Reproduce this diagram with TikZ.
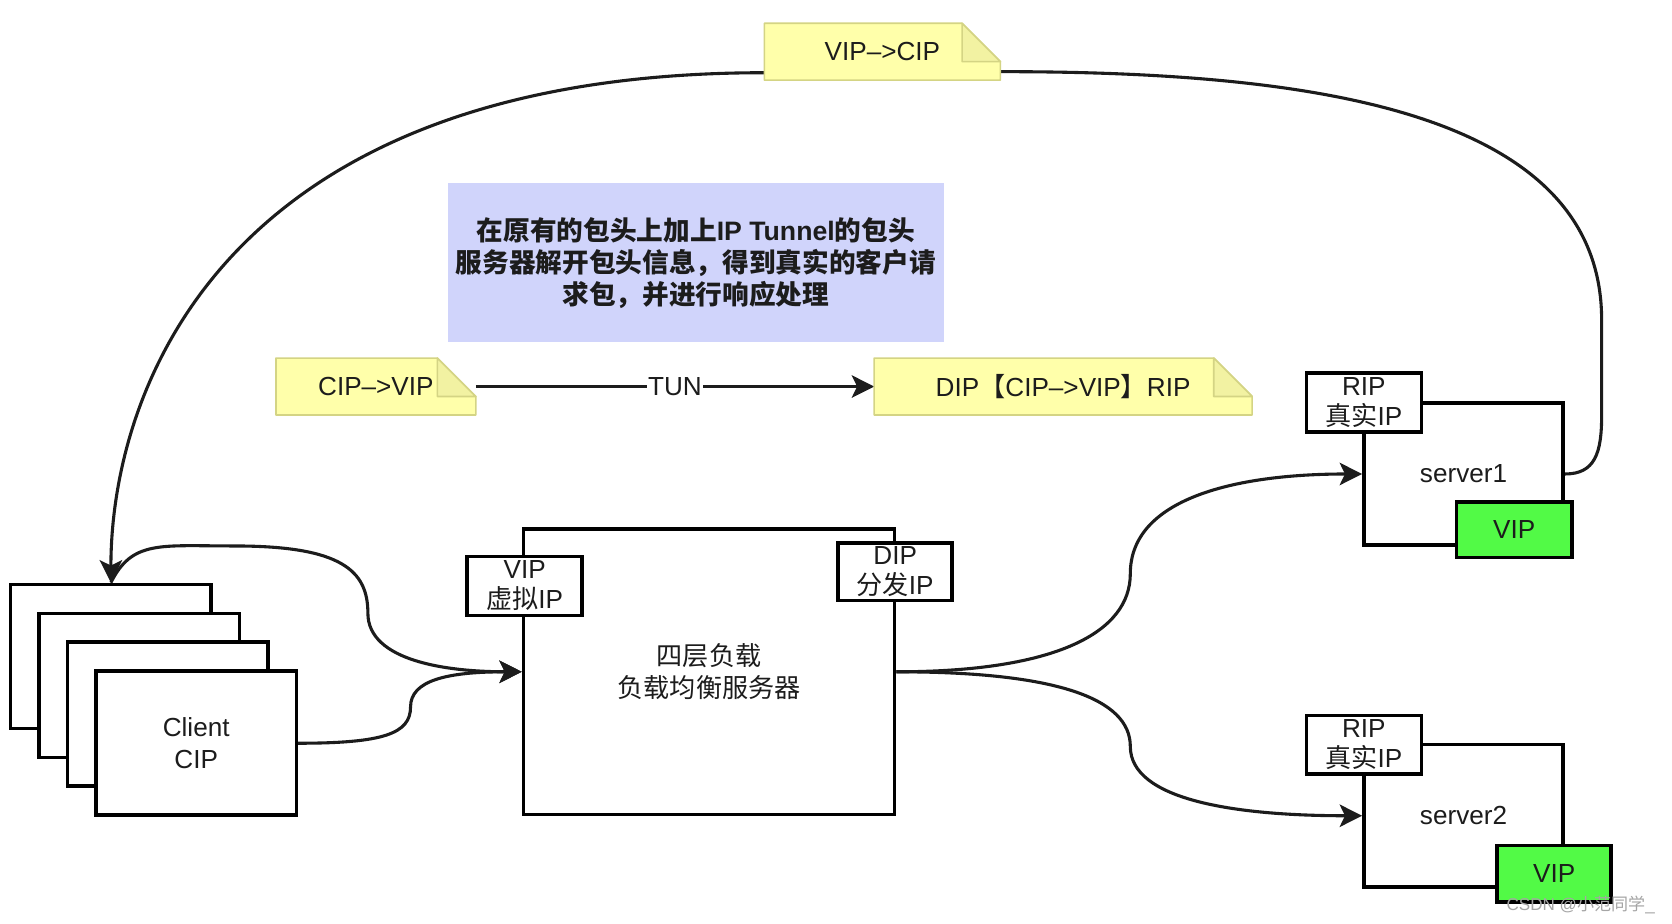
\documentclass[tikz,border=0pt]{standalone}
\usepackage{fontspec}
\setmainfont{Liberation Sans}
\newfontfamily\cjk{Noto Sans CJK SC}
\usetikzlibrary{arrows.meta,calc}
\pgfdeclarelayer{edgelayer}
\pgfdeclarelayer{notelayer}
\pgfsetlayers{edgelayer,notelayer,main}
\definecolor{ink}{RGB}{28,28,28}
\definecolor{notefill}{RGB}{255,255,170}
\definecolor{notefold}{RGB}{242,242,162}
\definecolor{noteline}{RGB}{212,212,132}
\definecolor{bluefill}{RGB}{208,212,251}
\definecolor{vipgreen}{RGB}{82,250,70}
\definecolor{wmark}{RGB}{165,165,165}
\tikzset{
  box/.style={draw=black, line width=3.3pt, fill=white, text=ink, inner sep=0pt,
    align=center, font=\fontsize{24.5}{30}\selectfont},
  tagbox/.style={box, minimum width=108, minimum height=55, font=\fontsize{24.5}{28}\selectfont},
  clientbox/.style={box, minimum width=188, minimum height=135},
  serverbox/.style={box, minimum width=187, minimum height=133},
  greenbox/.style={box, fill=vipgreen, minimum width=108, minimum height=52},
  notebox/.style={inner sep=0pt, minimum height=53, text=ink, font=\fontsize{24.5}{29}\selectfont},
  conn/.style={draw=ink, line width=2.9pt, -{Stealth[length=21pt,width=21pt,inset=5pt]}},
}
\begin{document}
\begin{tikzpicture}[x=1pt,y=-1pt]
\useasboundingbox (0,0) rectangle (1568,866.5);

% clients
\node[clientbox] (c1) at (104,615.5) {};
\node[clientbox] (c2) at (130.7,642.7) {};
\node[clientbox] (c3) at (157.3,669.8) {};
\node[clientbox] (c4) at (184,697) {Client\\CIP};

% load balancer
\node[box, minimum width=348, minimum height=268] (lb) at (665,630) {{\cjk 四层负载}\\{\cjk 负载均衡服务器}};
\node[tagbox] (vipb) at (492,549.5) {VIP\\{\cjk 虚拟}IP};
\node[tagbox, minimum width=107, minimum height=54] (dipb) at (839.5,536) {DIP\\{\cjk 分发}IP};

% servers
\node[serverbox] (s1) at (1372.5,444.5) {server1};
\node[tagbox] (rip1) at (1279,377.5) {RIP\\{\cjk 真实}IP};
\node[greenbox] (vip1) at (1420,497) {VIP};

\node[serverbox, minimum height=134] (s2) at (1372.5,765) {server2};
\node[tagbox] (rip2) at (1279,698.5) {RIP\\{\cjk 真实}IP};
\node[greenbox, minimum width=107, minimum height=53] (vip2) at (1457.5,819.5) {VIP};

% info box
\node[fill=bluefill, minimum width=465, minimum height=149, inner sep=0pt, align=center,
      text=ink, font=\bfseries\fontsize{25}{30}\selectfont] (info) at (652.5,246.5)
  {{\cjk 在原有的包头上加上}IP Tunnel{\cjk 的包头}\\{\cjk 服务器解开包头信息，得到真实的客户请}\\{\cjk 求包，并进行响应处理}};

% notes
\node[notebox, minimum width=221] (n1) at (827.5,48.5) {VIP\textendash{}>CIP};
\node[notebox, minimum width=187] (n2) at (352.5,362.5) {CIP\textendash{}>VIP};
\node[notebox, minimum width=354] (n3) at (997,362.5) {DIP{\cjk 【}CIP\textendash{}>VIP{\cjk 】}RIP};

% watermark
\node[text=wmark, inner sep=0pt, anchor=east, font=\fontsize{16}{16}\selectfont] (wm) at (1552,849) {CSDN @{\cjk 小范同学}\_};

% helper coordinates
\coordinate (m1) at (385,663);
\coordinate (t1) at (220,512);
\coordinate (m2) at (345,575);
\coordinate (m3) at (1060,538);
\coordinate (m4) at (1060,700);
\coordinate (r1) at (1502,390);
\coordinate (r2) at (1502,300);

\begin{pgfonlayer}{notelayer}
\foreach \n in {n1,n2,n3} {
  \filldraw[fill=notefill, draw=noteline, line width=1.5pt, line join=round]
    (\n.north west) -- ($(\n.north east)+(-36,0)$) -- ($(\n.north east)+(0,36)$)
    -- (\n.south east) -- (\n.south west) -- cycle;
  \filldraw[fill=notefold, draw=noteline, line width=1.5pt, line join=round]
    ($(\n.north east)+(-36,0)$) -- ($(\n.north east)+(-36,36)$) -- ($(\n.north east)+(0,36)$) -- cycle;
}
\end{pgfonlayer}

\begin{pgfonlayer}{edgelayer}
\fill[white] (0,0) rectangle (1568,866.5);
% client -> load balancer
\draw[conn] (c4.east) .. controls +(80,0) and +(0,25) .. (m1)
  .. controls +(0,-25) and +(-70,0) .. (lb.west);
\draw[conn] (c1.north) .. controls +(20,-40) and +(-70,0) .. (t1)
  .. controls +(100,0) and +(0,-40) .. (m2)
  .. controls +(0,45) and +(-70,0) .. (lb.west);
% load balancer -> servers
\draw[conn] (lb.east) .. controls +(150,0) and +(0,55) .. (m3)
  .. controls +(0,-70) and +(-120,0) .. (s1.west);
\draw[conn] (lb.east) .. controls +(150,0) and +(0,-45) .. (m4)
  .. controls +(0,50) and +(-120,0) .. (s2.west);
% server1 -> client (response)
\draw[conn] (s1.east) .. controls +(28,0) and +(0,35) .. (r1) -- (r2)
  .. controls +(0,-200) and +(280,0) .. ($(n1.south east)+(0,-8)$)
  -- ($(n1.south west)+(0,-7)$)
  .. controls +(-508,0) and +(0,-181) .. (c1.north);
% tunnel
\draw[conn] (n2.east) -- node[fill=white, inner sep=1pt, text=ink, font=\fontsize{24.5}{29}\selectfont] (tun) {TUN} (n3.west);
\end{pgfonlayer}
\end{tikzpicture}
\end{document}
